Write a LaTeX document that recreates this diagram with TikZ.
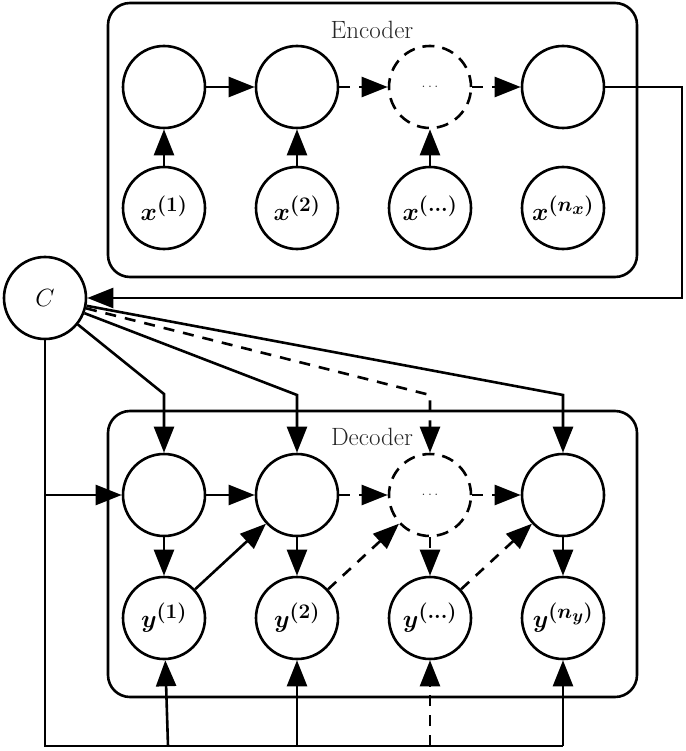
\documentclass[tikz,border=0pt]{standalone}
\usepackage{amsmath,bm}
\usepackage{fontspec}
\usetikzlibrary{arrows.meta}
\begin{document}
\begin{tikzpicture}[x=1pt,y=-1pt,
  plain/.style={line width=2.6pt},
  unit/.style={circle,draw,line width=2.6pt,minimum size=82pt,inner sep=0pt,font=\Huge},
  dunit/.style={unit,dash pattern=on 12pt off 8pt},
  arr/.style={line width=2.6pt,-{Triangle[length=26pt,width=20pt]}},
  darr/.style={arr,dash pattern=on 11pt off 9pt},
  box/.style={draw,line width=2.6pt,rounded corners=22pt},
  lbl/.style={font=\fontsize{25}{29}\selectfont,text=black!85},
  dotlbl/.style={font=\Large,text=black!85}
]
\useasboundingbox (0,0) rectangle (685,751);

% boxes
\draw[box] (108,3) rectangle (637,277);
\draw[box] (108,411) rectangle (637,697);
\node[lbl] (enc) at (372,30) {Encoder};
\node[lbl] (dec) at (372,437) {Decoder};

% encoder nodes
\node[unit] (e1) at (164,87) {};
\node[unit] (e2) at (297,87) {};
\node[dunit] (e3) at (430,87) {};
\node[dotlbl] (e3t) at (430,87) {$\ldots$};
\node[unit] (e4) at (563,87) {};
\node[unit] (x1) at (164,208) {$\boldsymbol{x^{(1)}}$};
\node[unit] (x2) at (297,208) {$\boldsymbol{x^{(2)}}$};
\node[unit] (x3) at (430,208) {$\boldsymbol{x^{(\ldots)}}$};
\node[unit] (x4) at (563,208) {$\boldsymbol{x^{(n_x)}}$};

% context
\node[unit] (C) at (45,298) {$C$};

% decoder nodes
\node[unit] (d1) at (164,495) {};
\node[unit] (d2) at (297,495) {};
\node[dunit] (d3) at (430,495) {};
\node[dotlbl] (d3t) at (430,495) {$\ldots$};
\node[unit] (d4) at (563,495) {};
\node[unit] (y1) at (164,618) {$\boldsymbol{y^{(1)}}$};
\node[unit] (y2) at (297,618) {$\boldsymbol{y^{(2)}}$};
\node[unit] (y3) at (430,618) {$\boldsymbol{y^{(\ldots)}}$};
\node[unit] (y4) at (563,618) {$\boldsymbol{y^{(n_y)}}$};

% coordinates
\coordinate (eo1) at (682,87);
\coordinate (eo2) at (682,298);
\coordinate (k1) at (164,394);
\coordinate (k2) at (297,395);
\coordinate (k3) at (430,395);
\coordinate (k4) at (563,395);
\coordinate (lb) at (45,495);
\coordinate (bl) at (45,746);
\coordinate (b1) at (168,746);
\coordinate (b2) at (297,746);
\coordinate (b3) at (430,746);
\coordinate (b4) at (563,746);

% encoder connectors
\draw[arr] (e1) -- (e2);
\draw[darr] (e2) -- (e3);
\draw[darr] (e3) -- (e4);
\draw[arr] (x1) -- (e1);
\draw[arr] (x2) -- (e2);
\draw[arr] (x3) -- (e3);
\draw[arr] (e4) -- (eo1) -- (eo2) -- (C);

% context to decoder
\draw[arr] (C) -- (k1) -- (d1);
\draw[arr] (C) -- (k2) -- (d2);
\draw[darr] (C) -- (k3) -- (d3);
\draw[arr] (C) -- (k4) -- (d4);
\draw[plain] (C) -- (bl) -- (b4);
\draw[arr] (lb) -- (d1);
\draw[arr] (b1) -- (y1);
\draw[arr] (b2) -- (y2);
\draw[darr] (b3) -- (y3);
\draw[arr] (b4) -- (y4);

% decoder connectors
\draw[arr] (d1) -- (d2);
\draw[darr] (d2) -- (d3);
\draw[darr] (d3) -- (d4);
\draw[arr] (d1) -- (y1);
\draw[arr] (d2) -- (y2);
\draw[darr] (d3) -- (y3);
\draw[arr] (d4) -- (y4);
\draw[arr] (y1) -- (d2);
\draw[darr] (y2) -- (d3);
\draw[darr] (y3) -- (d4);
\end{tikzpicture}
\end{document}
